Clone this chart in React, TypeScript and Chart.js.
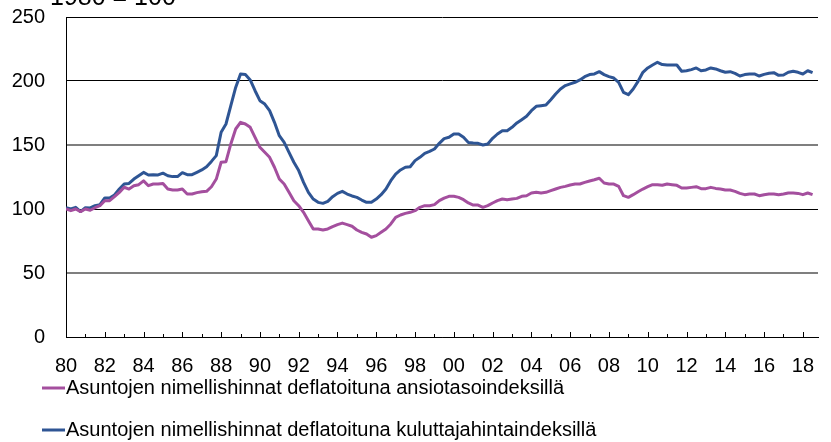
import React, { useEffect, useRef } from "react";
import { Chart, registerables } from "chart.js";

Chart.register(...registerables);

const startYear = 1980;
const axisEnd = 2018.78;
const titleText = "1980 = 100";
const seriesLabels = [
  "Asuntojen nimellishinnat deflatoituna ansiotasoindeksillä",
  "Asuntojen nimellishinnat deflatoituna kuluttajahintaindeksillä",
];
const seriesColors = ["#a44f9e", "#2e5594"];

// Quarterly values, 1980 Q1 ... 2018 Q3
const deflatedByEarnings = [
  100, 98.7, 100, 98, 100, 99, 101, 102.6, 106.5, 106.5, 109.6, 113, 117, 115.6, 118.2, 119, 122, 118.2, 119.5, 119.5, 120, 115.6, 114.8, 114.8, 115.6,
  111.7, 111.7, 112.8, 113.5, 113.8, 117.4, 123.4, 136.5, 137, 150.8, 162.5, 167.7, 166.4, 163.8, 156, 148.2, 144.3, 140.4, 132.6, 123.4, 119.5, 113, 106.5, 102.6, 97.4, 90.9, 84.4,
  84.4, 83.6, 84.4, 86.2, 87.8, 89, 87.8, 86.5, 83.6, 81.8, 80.5, 77.9, 79.2, 81.8, 84.4, 88.3, 93.5, 95.3, 96.6, 97.4, 98.7, 101.3, 102.6, 102.6, 103.4, 106.5, 108.5,
  109.9, 109.9, 109.1, 107.3, 104.7, 103.1, 103.1, 101.3, 102.6, 104.7, 106.5, 107.8, 107.3, 107.8, 108.3, 109.9, 110.4, 112.5, 113, 112.5, 113, 114.3, 115.6, 116.9, 117.7, 118.8, 119.5,
  119.5, 120.8, 121.9, 122.9, 124, 120.3, 119.5, 119.5, 117.7, 110.4, 109.1, 111.2, 113.5, 115.6, 117.4, 119, 119, 118.5, 119.5, 119, 118.5, 116.4, 116.4, 116.9, 117.4, 115.9,
  115.9, 116.9, 116.1, 115.6, 114.8, 114.8, 113.8, 112.2, 111.2, 111.7, 111.7, 110.4, 111.2, 111.7, 111.7, 111.2, 111.7, 112.5, 112.5, 112.2, 111.2, 112.5, 111.2,
];

const deflatedByCpi = [
  101, 100, 101.3, 98, 101, 100.8, 102.6, 103.4, 108.6, 108.6, 111, 115.6, 119.5, 120, 123.4, 126, 128.6, 126.6, 126.8, 126.6, 128, 126, 125.3, 125.3, 128.4,
  126.8, 126.8, 128.6, 130.5, 133, 137.2, 141.7, 160, 166.4, 180.7, 195, 205.5, 205, 200.8, 192.4, 184.6, 182, 176.8, 167.7, 157.3, 152, 144.3, 136.5, 130, 120.8, 113, 107.8,
  105.2, 104.4, 106, 109.6, 112.2, 113.8, 111.7, 110.2, 109.1, 107, 105.2, 105.2, 107.8, 111.2, 115.6, 122.1, 127.3, 130.5, 132.6, 133, 137.8, 140.4, 143.5, 145, 146.9, 151.3, 155,
  156, 158.6, 158.6, 156, 152, 151.6, 151.3, 150, 150.8, 155.2, 158.6, 161.2, 161.2, 163.8, 167.2, 169.8, 172.4, 176.8, 180.2, 180.7, 181.2, 185.4, 189.8, 193.8, 196.4, 197.7, 199,
  200.8, 203.4, 205, 205.5, 207.3, 205, 203.4, 202.3, 199, 191.1, 189.3, 193.7, 199.7, 206.8, 210.2, 212.5, 214.6, 212.8, 212.5, 212.5, 212.5, 207.6, 208, 208.9, 210.2, 208,
  208.6, 210.2, 209.4, 208, 206.8, 207.3, 206, 203.9, 205, 205.5, 205.5, 203.9, 205.2, 206, 206.5, 204.4, 204.7, 206.8, 207.6, 206.8, 205.5, 208, 206.5,
];

const quarterPositions = deflatedByEarnings.map((_, i) => startYear + i / 4);
const FONT = "'Liberation Sans', Arial, sans-serif";

const extrasPlugin = {
  id: "extras",
  afterDraw(chart: any) {
    const { ctx, chartArea, scales } = chart;
    const x = scales.x;
    ctx.save();
    // inward year tick marks, longer on labelled years
    ctx.strokeStyle = "#000";
    ctx.lineWidth = 1;
    for (let yr = Math.ceil(x.min); yr <= x.max; yr++) {
      const px = Math.round(x.getPixelForValue(yr)) + 0.5;
      const len = yr % 2 === 0 ? 5 : 3;
      ctx.beginPath();
      ctx.moveTo(px, chartArea.bottom);
      ctx.lineTo(px, chartArea.bottom - len);
      ctx.stroke();
    }
    // title, partly cut off at the top edge
    ctx.fillStyle = "#000";
    ctx.font = `25px ${FONT}`;
    ctx.textBaseline = "alphabetic";
    ctx.textAlign = "left";
    ctx.fillText(titleText, 50, 5);
    // legend rows
    ctx.font = `20px ${FONT}`;
    ctx.textBaseline = "middle";
    chart.data.datasets.forEach((ds: any, i: number) => {
      const cy = chartArea.bottom + 51 + i * 42;
      ctx.strokeStyle = ds.borderColor;
      ctx.lineWidth = 3;
      ctx.beginPath();
      ctx.moveTo(42, cy);
      ctx.lineTo(65, cy);
      ctx.stroke();
      ctx.fillStyle = "#000";
      ctx.fillText(ds.label, 66, cy);
    });
    ctx.restore();
  },
};

export default function App() {
  const ref = useRef<HTMLCanvasElement>(null);
  useEffect(() => {
    if (!ref.current) return;
    const chart = new Chart(ref.current, {
      type: "line",
      data: {
        datasets: [deflatedByEarnings, deflatedByCpi].map((vals, i) => ({
          label: seriesLabels[i],
          data: vals.map((v, j) => ({ x: quarterPositions[j], y: v })),
          borderColor: seriesColors[i],
          borderWidth: 3,
          pointRadius: 0,
          tension: 0,
          borderJoinStyle: "round" as const,
          fill: false,
        })),
      },
      options: {
        animation: false,
        responsive: false,
        devicePixelRatio: 1,
        layout: { padding: { top: 17, left: 0, right: 0, bottom: 0 } },
        plugins: { legend: { display: false }, tooltip: { enabled: false } },
        scales: {
          x: {
            type: "linear",
            min: startYear,
            max: axisEnd,
            afterFit: (s: any) => {
              s.height = 105;
            },
            grid: { display: false, drawTicks: false },
            border: { display: true, color: "#000", width: 1 },
            ticks: {
              stepSize: 2,
              includeBounds: false,
              autoSkip: false,
              maxRotation: 0,
              padding: 17,
              color: "#000",
              font: { family: FONT, size: 20 },
              callback: (v: any) => String(v).slice(2),
            },
          },
          y: {
            min: 0,
            max: 250,
            afterFit: (s: any) => {
              s.width = 66;
              s.paddingTop = 0;
              s.paddingBottom = 0;
            },
            grid: {
              drawTicks: false,
              color: (c: any) => (c.tick && (c.tick.value === 150 || c.tick.value === 50) ? "#7f7f7f" : "#000"),
              lineWidth: (c: any) => (c.tick && (c.tick.value === 150 || c.tick.value === 50) ? 2 : 1),
            },
            border: { display: true, color: "#000", width: 1 },
            ticks: {
              stepSize: 50,
              padding: 21,
              color: "#000",
              font: { family: FONT, size: 20 },
            },
          },
        },
      },
      plugins: [extrasPlugin],
    });
    return () => chart.destroy();
  }, []);
  return (
    <div style={{ position: "absolute", left: 0, top: 0, width: 831, height: 442, background: "#fff" }}>
      <canvas ref={ref} width={831} height={442} style={{ display: "block", width: 831, height: 442 }} />
    </div>
  );
}
